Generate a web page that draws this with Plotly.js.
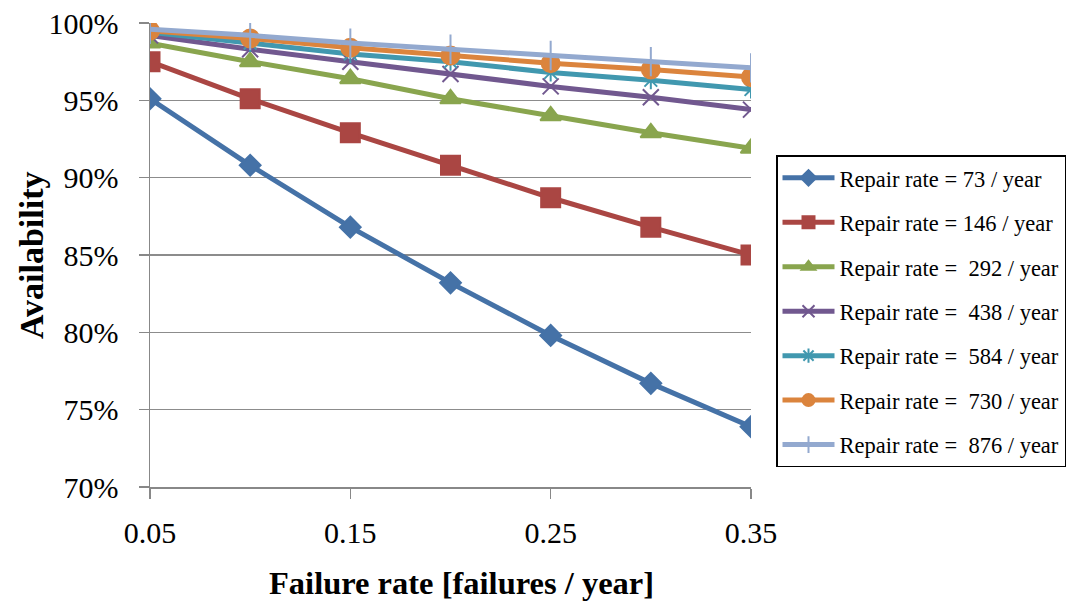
<!DOCTYPE html>
<html><head><meta charset="utf-8">
<script src="https://cdn.plot.ly/plotly-3.0.1.min.js"></script>
<style>html,body{margin:0;padding:0;background:#fff}#chart{width:1078px;height:603px}</style>
</head><body><div id="chart"></div>
<script>
const failureRates = [0.05, 0.10, 0.15, 0.20, 0.25, 0.30, 0.35];
const xTickVals = [0.05, 0.15, 0.25, 0.35];
const xTickText = ['0.05', '0.15', '0.25', '0.35'];
const yTickVals = [0.70, 0.75, 0.80, 0.85, 0.90, 0.95, 1.00];
const yTickText = ['70%', '75%', '80%', '85%', '90%', '95%', '100%'];
const yTitle = 'Availability';
const xTitle = 'Failure rate [failures / year]';

const seriesNames = [
  'Repair rate = 73 / year',
  'Repair rate = 146 / year',
  'Repair rate =\u00a0 292 / year',
  'Repair rate =\u00a0 438 / year',
  'Repair rate =\u00a0 584 / year',
  'Repair rate =\u00a0 730 / year',
  'Repair rate =\u00a0 876 / year'
];
const rate73  = [0.951, 0.908, 0.868, 0.832, 0.798, 0.767, 0.739];
const rate146 = [0.975, 0.951, 0.929, 0.908, 0.887, 0.868, 0.850];
const rate292 = [0.987, 0.975, 0.964, 0.951, 0.940, 0.929, 0.919];
const rate438 = [0.992, 0.983, 0.975, 0.967, 0.959, 0.952, 0.944];
const rate584 = [0.994, 0.987, 0.980, 0.975, 0.968, 0.963, 0.957];
const rate730 = [0.995, 0.990, 0.984, 0.979, 0.974, 0.970, 0.965];
const rate876 = [0.996, 0.992, 0.987, 0.983, 0.979, 0.975, 0.971];
const allSeries = [rate73, rate146, rate292, rate438, rate584, rate730, rate876];

const colors = ['#4572A7', '#AA4643', '#89A54E', '#71588F', '#4198AF', '#DB843D', '#93A9CF'];
const symbols = ['diamond', 'square', 'triangle-up', 'x-thin-open', 'asterisk-open', 'circle', 'cross-thin-open'];
const sizes = [16, 19, 18, 16, 15, 18, 21];

const traces = allSeries.map((vals, i) => ({
  x: failureRates,
  y: vals,
  name: seriesNames[i],
  legendgroup: 'g' + i,
  type: 'scatter',
  mode: 'lines+markers',
  line: {color: colors[i], width: 5},
  marker: {symbol: symbols[i], size: sizes[i], color: colors[i],
           line: {color: colors[i], width: 2}}
}));

const font = 'Liberation Serif, Times New Roman, serif';
const layout = {
  width: 1078, height: 603,
  margin: {l: 150, r: 327, t: 23, b: 116},
  paper_bgcolor: '#fff', plot_bgcolor: '#fff',
  font: {family: font, color: '#000', size: 26},
  showlegend: true,
  legend: {
    x: 1.0416, y: 0.715, xanchor: 'left', yanchor: 'top',
    bordercolor: '#000', borderwidth: 1.5,
    font: {family: font, size: 22.5, color: '#000'},
    tracegroupgap: 12.2,
    itemwidth: 52,
    itemsizing: 'constant'
  },
  xaxis: {
    range: [0.05, 0.35],
    tickvals: xTickVals, ticktext: xTickText,
    showgrid: false, zeroline: false,
    showline: true, linecolor: '#888', linewidth: 1.5,
    ticks: 'outside', ticklen: 10, tickcolor: '#888', tickwidth: 1.5,
    ticklabelstandoff: 8,
    tickfont: {family: font, size: 30}
  },
  yaxis: {
    range: [0.70, 1.00],
    tickvals: yTickVals, ticktext: yTickText,
    showgrid: true, gridcolor: '#8c8c8c', gridwidth: 1.5,
    zeroline: false,
    showline: true, linecolor: '#888', linewidth: 1.5,
    ticks: 'outside', ticklen: 10, tickcolor: '#888', tickwidth: 1.5,
    ticklabelstandoff: 14,
    tickfont: {family: font, size: 30}
  },
  annotations: [{
    text: '<b>' + yTitle + '</b>', textangle: -90,
    xref: 'paper', yref: 'paper', x: -0.198, y: 0.5,
    xanchor: 'center', yanchor: 'middle', showarrow: false,
    font: {family: font, size: 34, color: '#000'}
  }, {
    text: '<b>' + xTitle + '</b>',
    xref: 'paper', yref: 'paper', x: 0.5175, y: -0.207,
    xanchor: 'center', yanchor: 'middle', showarrow: false,
    font: {family: font, size: 32.5, color: '#000'}
  }]
};
Plotly.newPlot('chart', traces, layout, {displayModeBar: false, staticPlot: true});
</script></body></html>
